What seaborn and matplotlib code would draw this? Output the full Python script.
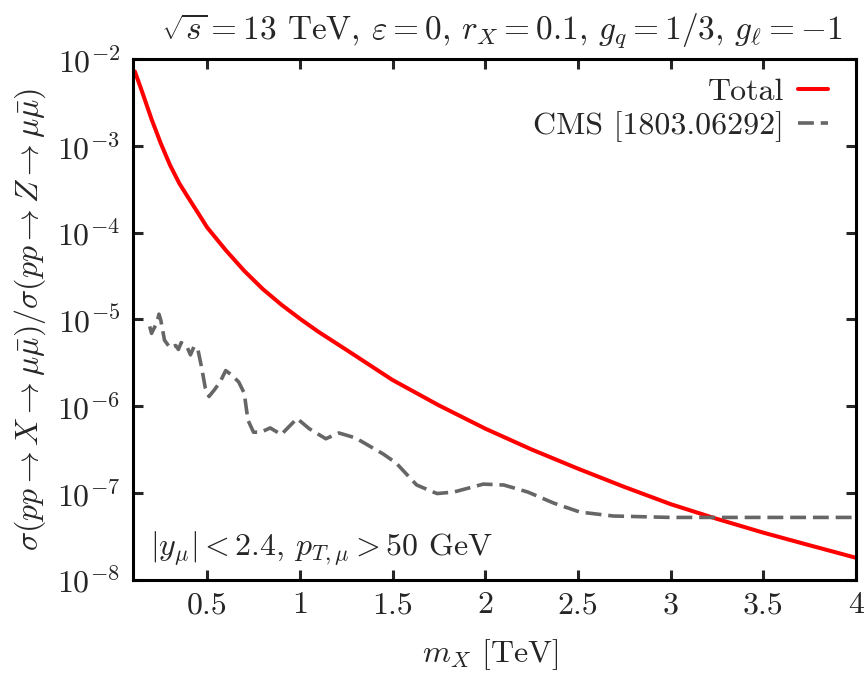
import numpy as np
import pandas as pd
import matplotlib
matplotlib.use("Agg")
import matplotlib.pyplot as plt
from matplotlib.ticker import NullLocator, LogLocator
import seaborn as sns

# ---------------- data ----------------
mx_total = [0.11, 0.15, 0.20, 0.25, 0.30, 0.35, 0.40, 0.45, 0.50, 0.60, 0.70,
            0.80, 0.90, 1.00, 1.10, 1.25, 1.50, 1.75, 2.00, 2.25, 2.50, 2.75,
            3.00, 3.25, 3.50, 3.75, 4.00]
sigma_total = [7.24e-3, 4.17e-3, 2.04e-3, 1.07e-3, 6.0e-4, 3.7e-4, 2.5e-4,
               1.7e-4, 1.15e-4, 6.3e-5, 3.63e-5, 2.24e-5, 1.48e-5, 1.02e-5,
               7.2e-6, 4.47e-6, 2.0e-6, 1.02e-6, 5.5e-7, 3.16e-7, 1.9e-7,
               1.17e-7, 7.4e-8, 5.0e-8, 3.47e-8, 2.48e-8, 1.78e-8]

mx_cms = [0.19, 0.20, 0.23, 0.24, 0.25, 0.27, 0.30, 0.33, 0.345, 0.36, 0.39,
          0.41, 0.43, 0.45, 0.47, 0.49, 0.51, 0.54, 0.57, 0.60, 0.63, 0.67,
          0.70, 0.72, 0.75, 0.79, 0.84, 0.90, 0.94, 0.985, 1.05, 1.14, 1.21,
          1.30, 1.45, 1.52, 1.63, 1.74, 1.83, 1.99, 2.10, 2.23, 2.37, 2.51,
          2.69, 3.00, 3.50, 4.00]
sigma_cms = [8.3e-6, 6.9e-6, 9.3e-6, 1.15e-5, 9.8e-6, 5.75e-6, 4.7e-6, 5.0e-6,
             4.5e-6, 5.4e-6, 4.9e-6, 3.9e-6, 4.9e-6, 4.5e-6, 2.8e-6, 1.62e-6,
             1.29e-6, 1.55e-6, 1.9e-6, 2.57e-6, 2.3e-6, 1.9e-6, 1.41e-6,
             6.9e-7, 5.0e-7, 5.0e-7, 5.6e-7, 4.7e-7, 5.75e-7, 7.2e-7, 5.5e-7,
             4.2e-7, 4.9e-7, 4.3e-7, 2.8e-7, 2.2e-7, 1.23e-7, 9.8e-8, 1.02e-7,
             1.26e-7, 1.23e-7, 1.02e-7, 7.6e-8, 6.0e-8, 5.4e-8, 5.2e-8, 5.2e-8,
             5.2e-8]

series_labels = ["Total", "CMS [1803.06292]"]
xtick_values = [0.5, 1.0, 1.5, 2.0, 2.5, 3.0, 3.5, 4.0]
xtick_labels = ["0.5", "1", "1.5", "2", "2.5", "3", "3.5", "4"]

# ---------------- style ----------------
sns.set_theme(style="ticks")
FS = 23
plt.rcParams.update({
    "font.family": "serif",
    "font.serif": ["cmr10", "DejaVu Serif"],
    "mathtext.fontset": "cm",
    "axes.formatter.use_mathtext": True,
    "axes.unicode_minus": False,
    "font.size": FS,
})

df_total = pd.DataFrame({"mx": mx_total, "sigma": sigma_total})
df_cms = pd.DataFrame({"mx": mx_cms, "sigma": sigma_cms})

fig = plt.figure(figsize=(8.68, 6.75), dpi=100)
ax = fig.add_axes([133 / 868, 1 - 579.5 / 675, (856 - 133) / 868, (579.5 - 59.3) / 675])

sns.lineplot(data=df_total, x="mx", y="sigma", ax=ax, color="#ff0000",
             lw=2.9, label=series_labels[0], sort=False)
sns.lineplot(data=df_cms, x="mx", y="sigma", ax=ax, color="#666666",
             lw=2.6, label=series_labels[1], sort=False,
             linestyle=(0, (4.4, 1.9)))

ax.set_yscale("log")
ax.set_xlim(0.1, 4.0)
ax.set_ylim(1e-8, 1e-2)
ax.yaxis.set_major_locator(LogLocator(base=10, numticks=10))
ax.yaxis.set_minor_locator(NullLocator())
ax.set_xticks(xtick_values, labels=xtick_labels)
ax.xaxis.set_minor_locator(NullLocator())

ax.tick_params(which="both", direction="in", top=True, right=True,
               length=7, width=2.2, labelsize=FS, pad=9)
for sp in ax.spines.values():
    sp.set_linewidth(2.2)
    sp.set_color("black")

ax.set_xlabel(r"$m_X$ [TeV]", fontsize=FS)
ax.xaxis.set_label_coords((490 - 133) / 723, -(655 - 579.5) / 520.2)
ax.xaxis.label.set_va("center")
ax.set_ylabel(r"$\sigma(pp \to X \to \mu\bar{\mu})/\sigma(pp \to Z \to \mu\bar{\mu})$",
              fontsize=FS)
ax.yaxis.set_label_coords(-(133 - 30) / 723, 0.5)
ax.yaxis.label.set_va("center")

fig.text(502 / 868, 1 - 31 / 675,
         r"$\sqrt{s} = 13$ TeV, $\varepsilon = 0$, $r_X = 0.1$, $g_q = 1/3$, $g_\ell = -1$",
         ha="center", va="center", fontsize=24)
ax.text(0.024, 0.06, r"$|y_\mu| < 2.4$, $p_{T,\mu} > 50$ GeV",
        transform=ax.transAxes, ha="left", va="center", fontsize=FS)

leg = ax.legend(loc="upper right", bbox_to_anchor=(0.978, 0.987),
                frameon=False, markerfirst=False,
                fontsize=FS, handlelength=0.94, handletextpad=0.45,
                labelspacing=0.15, borderaxespad=0.0, borderpad=0.37)

fig.savefig("out.png", dpi=100)
